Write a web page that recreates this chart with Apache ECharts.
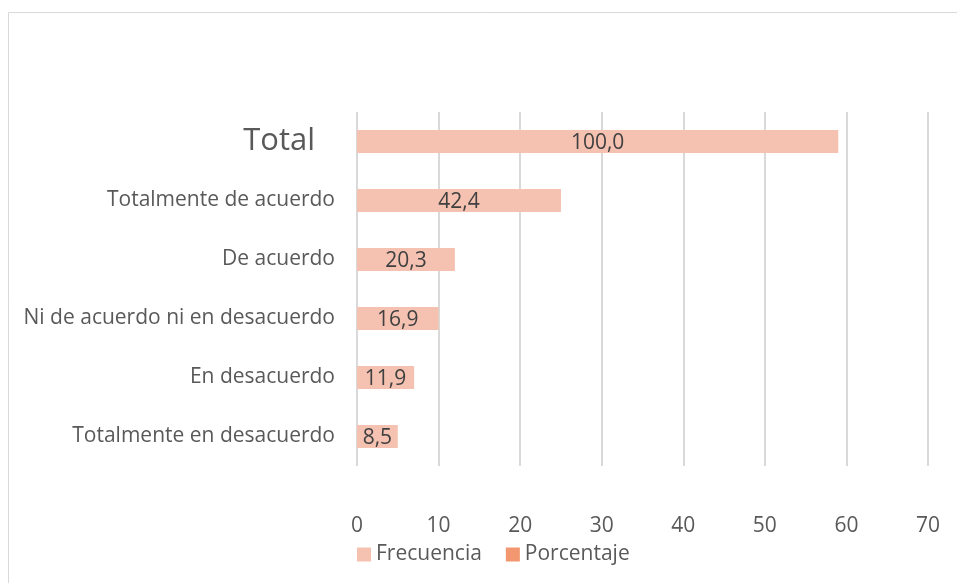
<!DOCTYPE html>
<html>
<head>
<meta charset="utf-8">
<script src="https://cdn.jsdelivr.net/npm/echarts@6/dist/echarts.min.js"></script>
<style>
  html, body { margin: 0; padding: 0; background: #fff; }
  #chart { width: 957px; height: 583px; }
</style>
</head>
<body>
<div id="chart"></div>
<script>
// categorias de abajo hacia arriba
var categorias = ['Totalmente en desacuerdo', 'En desacuerdo', 'Ni de acuerdo ni en desacuerdo', 'De acuerdo', 'Totalmente de acuerdo', 'Total'];
var frecuencia = [5, 7, 10, 12, 25, 59];
var porcentaje = [8.5, 11.9, 16.9, 20.3, 42.4, 100.0];
var ticksX = [0, 10, 20, 30, 40, 50, 60, 70];

var myChart = echarts.init(document.getElementById('chart'));
var option = {
    backgroundColor: '#fff',
    animation: false,
    textStyle: { fontFamily: 'Open Sans' },
    graphic: [{
        type: 'rect',
        shape: { x: 8.5, y: 12.5, width: 1000, height: 700 },
        style: { fill: 'none', stroke: '#d9d9d9', lineWidth: 1 }
    }],
    grid: { left: 357, right: 29, top: 112, bottom: 117 },
    legend: {
        bottom: 18,
        left: 357,
        padding: 0,
        itemWidth: 14,
        itemHeight: 14,
        itemGap: 24,
        icon: 'rect',
        textStyle: { color: '#595959', fontSize: 21, fontFamily: 'Open Sans' },
        data: ['Frecuencia', 'Porcentaje']
    },
    xAxis: {
        type: 'value',
        min: ticksX[0],
        max: ticksX[ticksX.length - 1],
        interval: 10,
        axisLine: { show: false },
        axisTick: { show: false },
        axisLabel: { color: '#595959', fontSize: 21, margin: 50 },
        splitLine: { show: true, lineStyle: { color: '#d9d9d9', width: 2 } }
    },
    yAxis: {
        type: 'category',
        data: categorias,
        axisLine: { show: false },
        axisTick: { show: false },
        axisLabel: {
            color: '#595959',
            fontSize: 21,
            margin: 22,
            formatter: function (v) {
                return v === 'Total' ? '{big|' + v + '}' : v;
            },
            rich: {
                big: { fontSize: 31, color: '#595959', padding: [0, 20, 0, 0] }
            }
        }
    },
    series: [
        {
            name: 'Frecuencia',
            type: 'bar',
            data: frecuencia,
            barWidth: 23,
            barGap: '-100%',
            itemStyle: { color: '#F5C2B1' },
            label: {
                show: true,
                position: 'inside',
                color: '#404040',
                fontSize: 21,
                offset: [0, 2],
                formatter: function (p) {
                    return porcentaje[p.dataIndex].toFixed(1).replace('.', ',');
                }
            }
        },
        {
            name: 'Porcentaje',
            type: 'bar',
            data: [],
            barWidth: 23,
            itemStyle: { color: '#F2976F' }
        }
    ]
};
option && myChart.setOption(option);
</script>
</body>
</html>
